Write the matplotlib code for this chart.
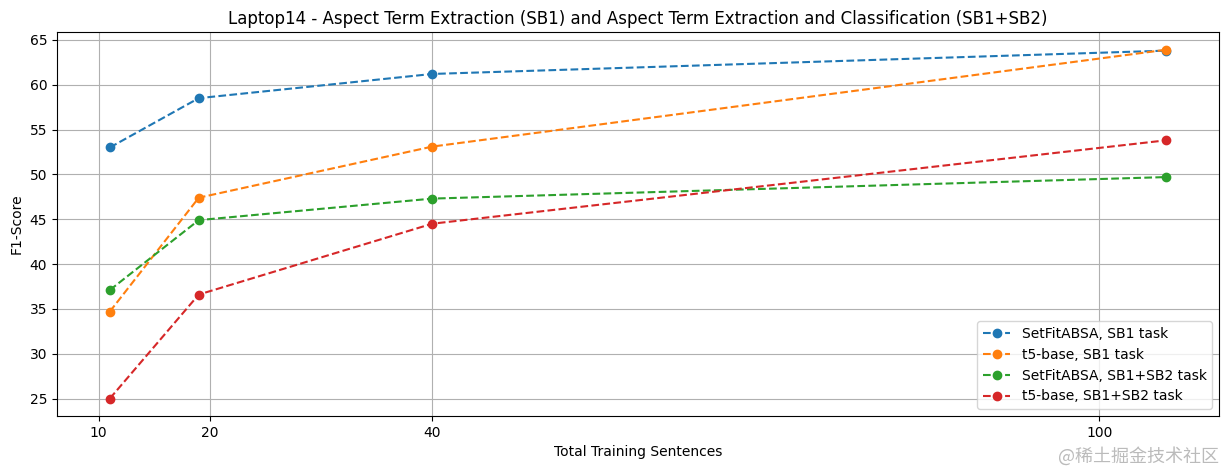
import matplotlib
matplotlib.use("Agg")
import matplotlib.pyplot as plt

x_values = [11, 19, 40, 106]
setfit_sb1 = [53.0, 58.5, 61.2, 63.8]
t5_sb1 = [34.7, 47.4, 53.1, 63.9]
setfit_sb12 = [37.1, 44.9, 47.3, 49.7]
t5_sb12 = [25.0, 36.6, 44.5, 53.8]
x_ticks = [10, 20, 40, 100]
labels = ["SetFitABSA, SB1 task", "t5-base, SB1 task",
          "SetFitABSA, SB1+SB2 task", "t5-base, SB1+SB2 task"]

fig = plt.figure(figsize=(12.29, 4.7), dpi=100)
ax = fig.add_axes([57/1229, (470-416)/470, (1219-57)/1229, (416-32.3)/470])
for ys, lab in zip([setfit_sb1, t5_sb1, setfit_sb12, t5_sb12], labels):
    ax.plot(x_values, ys, "o--", label=lab)
ax.set_xticks(x_ticks)
ax.grid(True)
ax.set_xlabel("Total Training Sentences")
ax.set_ylabel("F1-Score")
ax.set_title("Laptop14 - Aspect Term Extraction (SB1) and Aspect Term Extraction and Classification (SB1+SB2)")
ax.legend(loc="lower right")
fig.text(0.992, 0.01, "@稀土掘金技术社区", ha="right", va="bottom", fontsize=13,
         color="#bbbbbb", family=["Noto Sans CJK SC", "DejaVu Sans"])
fig.savefig("out.png", dpi=100)
